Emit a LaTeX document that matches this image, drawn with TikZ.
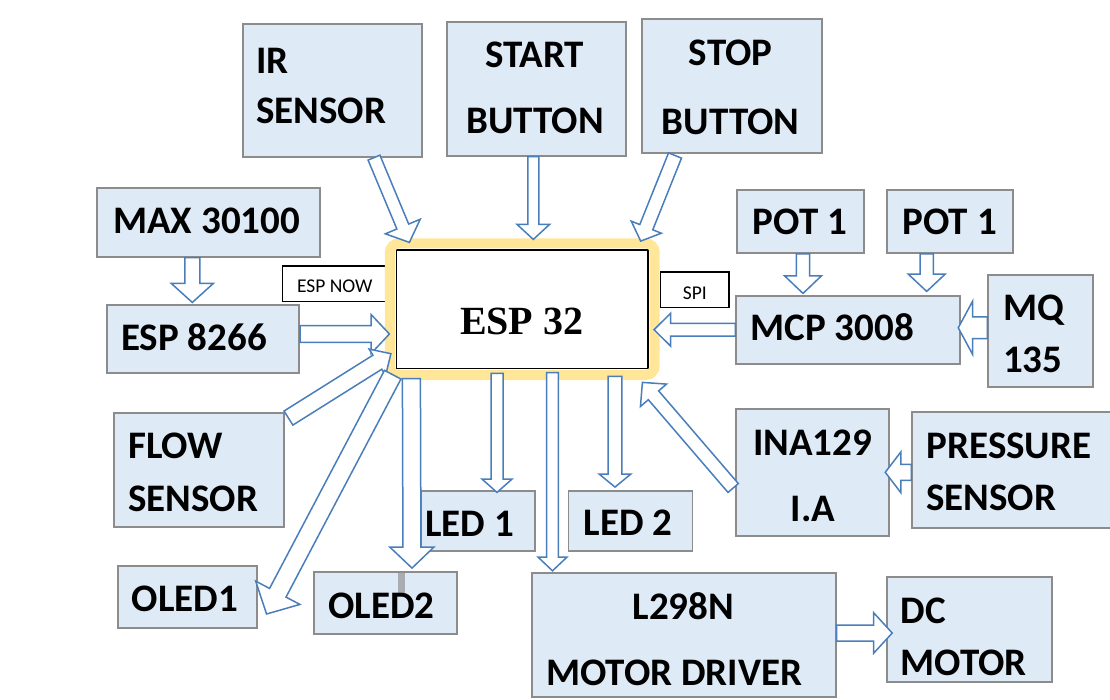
\documentclass[tikz,border=0pt]{standalone}
\usepackage{fontspec}
\setmainfont{Carlito}
\newfontfamily\espserif[BoldFont={Liberation Serif Bold}]{Liberation Serif}
\usetikzlibrary{calc}

\definecolor{modfill}{HTML}{DEEAF6}
\definecolor{modline}{HTML}{8C8C8C}
\definecolor{arrline}{HTML}{4A7EBB}
\definecolor{espglow}{HTML}{FFE699}
\definecolor{stubgray}{HTML}{A9ADB2}

% hollow block arrow: tail, tip, shaft half width, head half width, head length
\newcommand{\blockarrow}[5]{%
  \coordinate (bt) at (#1);
  \coordinate (bp) at (#2);
  \coordinate (bh) at ($(bp)!#5!(bt)$);
  \draw[barrow] ($(bt)!#3!90:(bp)$) -- ($(bh)!#3!90:(bp)$) -- ($(bh)!#4!90:(bp)$) -- (bp)
    -- ($(bh)!#4!-90:(bp)$) -- ($(bh)!#3!-90:(bp)$) -- ($(bt)!#3!-90:(bp)$) -- cycle;
}

\begin{document}
\begin{tikzpicture}[x=1pt,y=-1pt,
  module/.style={draw=modline, fill=modfill, line width=1.8pt, inner sep=0pt},
  lbl/.style={font=\fontsize{39}{47}\selectfont\bfseries, inner sep=0pt, text height=25pt, text depth=0pt},
  linktag/.style={draw=black, fill=white, line width=1.2pt, inner sep=0pt,
    font=\fontsize{19.5}{23}\selectfont, text height=18.5pt, text depth=0pt},
  barrow/.style={draw=arrline, fill=white, line width=1.5pt},
  glow/.style={draw=espglow, line width=10pt, rounded corners=9pt}]

  \useasboundingbox (0,0) rectangle (1110,700);

  % ========== Top row ==========
  \node[module, minimum width=178.4, minimum height=132.7] (ir) at (332.5,90.4) {};
  \path (256,61) node[lbl, anchor=west] (irA) {IR};
  \path (256,111.5) node[lbl, anchor=west] (irB) {SENSOR};

  \node[module, minimum width=179.3, minimum height=133.4] (start) at (536.3,89) {};
  \path (534.5,54.7) node[lbl] (startA) {START};
  \path (535,120.8) node[lbl] (startB) {BUTTON};

  \node[module, minimum width=180, minimum height=134] (stop) at (732,86.3) {};
  \path (730.7,53) node[lbl] (stopA) {STOP};
  \path (730.7,121.7) node[lbl] (stopB) {BUTTON};

  % ========== Left side ==========
  \node[module, minimum width=223.3, minimum height=68.4] (max) at (208.3,222.5) {};
  \path (206.7,221.3) node[lbl] (maxA) {MAX 30100};

  \node[module, minimum width=192.6, minimum height=68.3] (esp8266) at (203,339.2) {};
  \path (121,338.3) node[lbl, anchor=west] (espA) {ESP 8266};

  \node[linktag, minimum width=105, minimum height=35.3] (espnow) at (334.8,283.7) {ESP NOW};

  \node[module, minimum width=170.3, minimum height=114.3] (flow) at (199.2,469.8) {};
  \path (128,445.8) node[lbl, anchor=west] (flowA) {FLOW};
  \path (128,499) node[lbl, anchor=west] (flowB) {SENSOR};

  \node[module, minimum width=139, minimum height=61.7] (oled1) at (187.2,596.8) {};
  \path (131.5,599.2) node[lbl, anchor=west] (oledA) {OLED1};

  \node[module, minimum width=142.4, minimum height=62] (oled2) at (385.5,603.3) {};
  \fill[stubgray] (398,573.3) rectangle (405,593);
  \path (328,605.8) node[lbl, anchor=west] (oledB) {OLED2};

  % ========== ESP 32 ==========
  \node[draw=black, fill=white, line width=1.3pt, minimum width=251.5, minimum height=118.3] (esp32) at (522.3,309.2) {};
  \draw[glow] ($(esp32.south west)+(-6,6)$) rectangle ($(esp32.north east)+(6,-6)$);
  \path (521.7,321.7) node[font=\espserif\fontsize{40}{48}\selectfont\bfseries, inner sep=0pt,
    text height=26.5pt, text depth=0pt] (espC) {ESP 32};

  \node[linktag, minimum width=68.3, minimum height=35.7] (spi) at (694.8,289.8) {SPI};

  % ========== Bottom row ==========
  \node[module, minimum width=114, minimum height=60] (led1) at (478,520.7) {};
  \path (425,524.2) node[lbl, anchor=west] (ledA) {LED 1};

  \node[module, minimum width=124, minimum height=60] (led2) at (630.5,520.7) {};
  \path (628,523.3) node[lbl] (ledB) {LED 2};

  \node[module, minimum width=303.9, minimum height=124.6] (l298n) at (683.7,635) {};
  \path (683.4,606.7) node[lbl] (drvA) {L298N};
  \path (546,673.3) node[lbl, anchor=west] (drvB) {MOTOR DRIVER};

  \node[module, minimum width=165, minimum height=105] (dc) at (969.6,629.8) {};
  \path (900.5,610.8) node[lbl, anchor=west] (dcA) {DC};
  \path (900.5,663.3) node[lbl, anchor=west] (dcB) {MOTOR};

  % ========== Right side ==========
  \node[module, minimum width=127, minimum height=63] (potA) at (800.5,221.5) {};
  \path (800,222.5) node[lbl] (potAt) {POT 1};

  \node[module, minimum width=126.6, minimum height=63] (potB) at (950,221.5) {};
  \path (949.7,222.5) node[lbl] (potBt) {POT 1};

  \node[module, minimum width=223.7, minimum height=68] (mcp) at (848.2,329.7) {};
  \path (750.5,328) node[lbl, anchor=west] (mcpA) {MCP 3008};

  \node[module, minimum width=104.4, minimum height=112.6] (mq) at (1040.5,331) {};
  \path (1003,307.5) node[lbl, anchor=west] (mqA) {MQ};
  \path (1003,360.2) node[lbl, anchor=west] (mqB) {135};

  \node[module, minimum width=152.7, minimum height=127] (ina) at (812.7,472.5) {};
  \path (812.5,442.5) node[lbl] (inaA) {INA129};
  \path (813,509) node[lbl] (inaB) {I.A};

  \node[module, minimum width=204, minimum height=116] (press) at (1014.3,470.3) {};
  \path (926.5,445.8) node[lbl, anchor=west] (pressA) {PRESSURE};
  \path (926,497.5) node[lbl, anchor=west] (pressB) {SENSOR};

  % ========== Block arrows ==========
  \blockarrow{$(ir.south)+(41.5,0)$}{$(esp32.north west)+(13.5,-7)$}{6.4pt}{18.9pt}{17.2pt}
  \blockarrow{$(start.south)+(-3,0)$}{$(esp32.north)+(11,-10)$}{5.5pt}{16.3pt}{15pt}
  \blockarrow{$(stop.south)+(-57,1.3)$}{$(esp32.north east)+(-8,-8.3)$}{7pt}{16.2pt}{15pt}
  \blockarrow{$(max.south)+(-16,0)$}{$(esp8266.north)+(-10.7,-1.7)$}{7.5pt}{21pt}{19pt}
  \blockarrow{$(esp8266.east)+(0,-5.2)$}{$(esp32.west)+(-6.5,24.8)$}{8.3pt}{19.5pt}{18.3pt}
  \blockarrow{$(flow.north east)+(3.2,6.3)$}{$(esp32.south west)+(-5,-15.3)$}{8.3pt}{15.5pt}{16pt}
  \blockarrow{$(esp32.south west)+(-3.2,5.7)$}{$(oled1.east)+(9,17.2)$}{9.3pt}{25pt}{24pt}
  \blockarrow{$(esp32.south west)+(15.5,9.7)$}{$(oled2.north)+(26.5,-3.3)$}{9pt}{22pt}{21pt}
  \blockarrow{$(esp32.south)+(-25.3,4.4)$}{$(led1.north)+(19,2.6)$}{6pt}{15pt}{13.3pt}
  \blockarrow{$(esp32.south)+(30.2,3.7)$}{$(l298n.north)+(-131.2,-1)$}{5.8pt}{14.5pt}{13.7pt}
  \blockarrow{$(esp32.south)+(92.7,7.4)$}{$(led2.north)+(-15.5,-2.7)$}{6.8pt}{15.8pt}{13pt}
  \blockarrow{$(ina.west)+(-2.3,15.5)$}{$(esp32.south east)+(-6.3,13.4)$}{6.8pt}{17.2pt}{17pt}
  \blockarrow{$(mcp.west)$}{$(esp32.east)+(5.3,20.5)$}{6.3pt}{16.5pt}{16.7pt}
  \blockarrow{$(potA.south)+(2.5,0)$}{$(mcp.north)+(-45.2,-1.4)$}{6.7pt}{18.5pt}{17.6pt}
  \blockarrow{$(potB.south)+(-23.3,0)$}{$(mcp.north)+(78.5,-3.4)$}{6.7pt}{18.5pt}{17.3pt}
  \blockarrow{$(mq.west)+(0,-3.2)$}{$(mcp.east)+(-2.7,-1.9)$}{10.8pt}{26.7pt}{14.4pt}
  \blockarrow{$(press.west)+(0,2)$}{$(ina.east)+(-4.7,-0.2)$}{8pt}{20.5pt}{15.7pt}
  \blockarrow{$(l298n.east)+(0,-2)$}{$(dc.west)+(6,3.2)$}{8pt}{20.3pt}{18.6pt}

\end{tikzpicture}
\end{document}
